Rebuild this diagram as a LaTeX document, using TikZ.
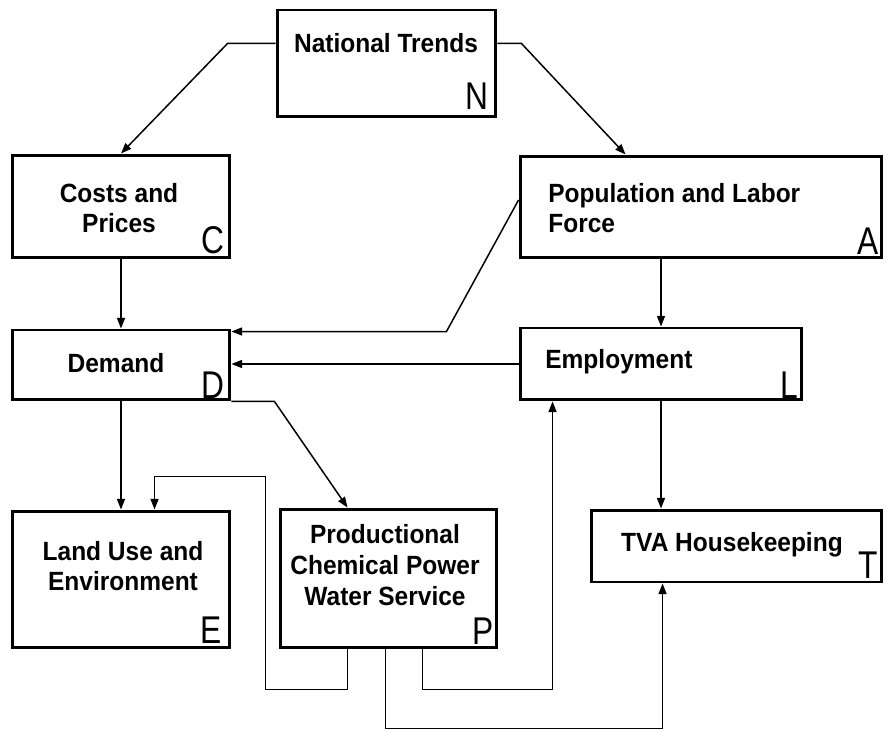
\documentclass[tikz,border=0pt]{standalone}
\usepackage{fontspec}
\setmainfont{Liberation Sans}
\newfontfamily\boxfont{Liberation Sans}[FakeStretch=0.93]
\newfontfamily\tagfont{Liberation Sans}[FakeStretch=0.82]
\usetikzlibrary{calc,arrows.meta}

\begin{document}
\begin{tikzpicture}[x=0.02cm, y=-0.02cm,
  block/.style={draw, line width=1.7pt, inner sep=0pt},
  txt/.style={font=\boxfont\bfseries\fontsize{15}{17.5}\selectfont, inner sep=0pt},
  tag/.style={font=\tagfont\fontsize{22}{22}\selectfont, inner sep=0pt, anchor=south east},
  link/.style={line width=0.85pt, -{Triangle[length=6pt,width=4.5pt]}}]
\useasboundingbox (0,0) rectangle (886,729);
\node[block, minimum width=4.38cm, minimum height=2.14cm] (N) at (386.5, 63.5) {};
\node[block, minimum width=4.36cm, minimum height=2.06cm] (C) at (121, 206.5) {};
\node[block, minimum width=7.24cm, minimum height=2.04cm] (A) at (701, 207) {};
\node[block, minimum width=4.36cm, minimum height=1.40cm] (D) at (121, 365) {};
\node[block, minimum width=5.64cm, minimum height=1.44cm] (L) at (661, 364) {};
\node[block, minimum width=4.36cm, minimum height=2.74cm] (E) at (121, 579.5) {};
\node[block, minimum width=4.34cm, minimum height=2.78cm] (P) at (388.5, 578.5) {};
\node[block, minimum width=5.82cm, minimum height=1.44cm] (T) at (736.5, 546) {};
\node[txt] (Ntext) at (386, 43) {National Trends};
\node[txt, align=center] (Ctext) at (119, 208) {Costs and\\Prices};
\node[txt, align=left, anchor=west] (Atext) at (548, 208) {Population and Labor\\Force};
\node[txt] (Dtext) at (116, 363) {Demand};
\node[txt, anchor=west] (Ltext) at (545, 362) {Employment};
\node[txt, align=center] (Etext) at (123, 566) {Land Use and\\Environment};
\node[txt, align=center] (Ptext) at (385, 565) {Productional\\Chemical Power\\Water Service};
\node[txt] (Ttext) at (732, 545) {TVA Housekeeping};
\node[tag] (Ntag) at ($(N.south east)+(-9,-9)$) {N};
\node[tag] (Ctag) at ($(C.south east)+(-7,-5)$) {C};
\node[tag] (Atag) at ($(A.south east)+(-4,-5)$) {A};
\node[tag] (Dtag) at ($(D.south east)+(-7,-3)$) {D};
\node[tag] (Ltag) at ($(L.south east)+(-5,-3)$) {L};
\node[tag] (Etag) at ($(E.south east)+(-9,-6)$) {E};
\node[tag] (Ptag) at ($(P.south east)+(-4,-5)$) {P};
\node[tag] (Ttag) at ($(T.south east)+(-5,-5)$) {T};
\draw[link] ($(N.west)+(0,-20)$) -- ++(-48,0) -- (C.north);
\draw[link] ($(N.east)+(0,-20)$) -- ++(24,0) -- ($(A.north west)+(107,0)$);
\draw[link] (C.south) -- (D.north);
\draw[link] ($(A.west)+(0,-7)$) -- ($(D.north east)+(215,3)$) -- ($(D.north east)+(0,3)$);
\draw[link] (L.north |- A.south) -- (L.north);
\draw[link] (L.west) -- (D.east |- L.west);
\draw[link] (D.south) -- (E.north);
\draw[link] (D.south east) -- ++(43,0) -- ($(P.north west)+(69,0)$);
\draw[link] ($(P.south west)+(69,0)$) -- ++(0,40) -- ++(-82,0) -- ++(0,-213) -| ($(E.north west)+(144,0)$);
\draw[link] ($(P.south west)+(144,0)$) -- ++(0,40) -| ($(L.south west)+(34,0)$);
\draw[link] ($(P.south west)+(107,0)$) -- ++(0,79) -| ($(T.south west)+(73,0)$);
\draw[link] (L.south) -- (L.south |- T.north);
\end{tikzpicture}
\end{document}
